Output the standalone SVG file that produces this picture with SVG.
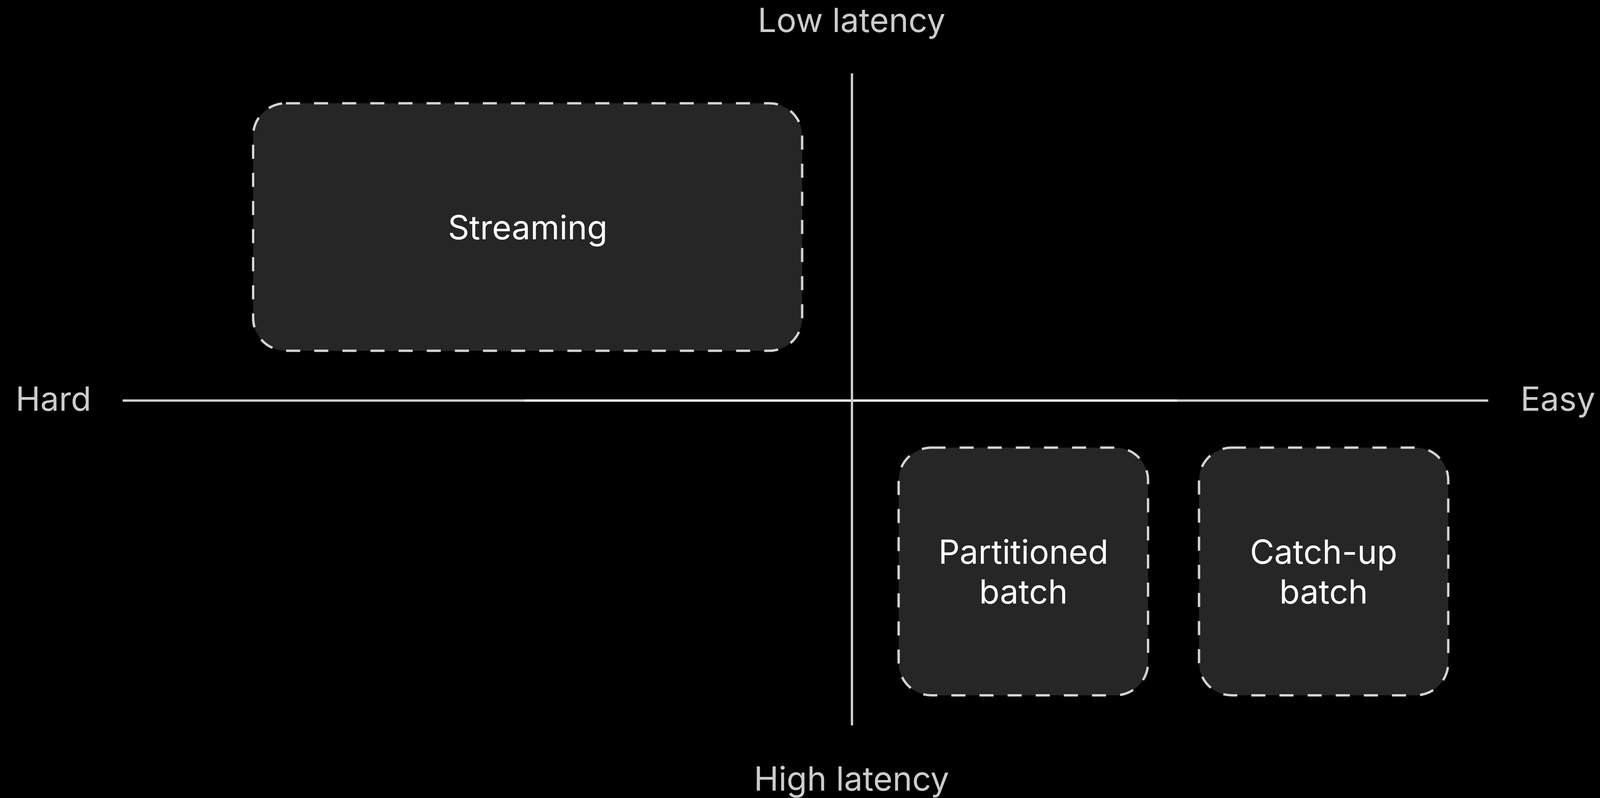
<svg xmlns="http://www.w3.org/2000/svg" width="4354" height="2044" viewBox="0 0 4354 2044">
  <style>
    .axis { stroke: #cccccc; stroke-width: 6; fill: none; }
    .axis-hi { stroke: #f4f4f4; stroke-width: 6; fill: none; }
    .axis-label { font-family: Inter, "Liberation Sans", sans-serif; font-size: 85px; fill: #cccccc; }
    .node-box { fill: #262626; stroke: #d4d4d4; stroke-width: 6; stroke-dasharray: 36 36; }
    .node-label { font-family: Inter, "Liberation Sans", sans-serif; font-size: 85px; fill: #ffffff; text-anchor: middle; }
  </style>
  <rect x="0" y="0" width="4354" height="2044" fill="#000000"/>
  <g id="connectors">
    <line class="axis" x1="314" y1="1026" x2="3810" y2="1026"/>
    <line class="axis-hi" x1="1343" y1="1026" x2="3013" y2="1026"/>
    <line class="axis" x1="2181" y1="188" x2="2181" y2="1858"/>
  </g>
  <g id="axis-labels">
    <text class="axis-label" x="2180" y="82" text-anchor="middle">Low latency</text>
    <text class="axis-label" x="2180" y="2025" text-anchor="middle">High latency</text>
    <text class="axis-label" x="40" y="1052">Hard</text>
    <text class="axis-label" x="4084" y="1052" text-anchor="end">Easy</text>
  </g>
  <g id="streaming">
    <rect class="node-box" x="648" y="264.5" width="1405.5" height="634" rx="84" ry="84"/>
    <text class="node-label" x="1351" y="613">Streaming</text>
  </g>
  <g id="partitioned-batch">
    <rect class="node-box" x="2300.5" y="1146.5" width="638.5" height="634.5" rx="84" ry="84"/>
    <text class="node-label" x="2620" y="1444">Partitioned</text>
    <text class="node-label" x="2620" y="1546">batch</text>
  </g>
  <g id="catch-up-batch">
    <rect class="node-box" x="3069.5" y="1146.5" width="638" height="634.5" rx="84" ry="84"/>
    <text class="node-label" x="3388.5" y="1444">Catch-up</text>
    <text class="node-label" x="3388.5" y="1546">batch</text>
  </g>
</svg>
